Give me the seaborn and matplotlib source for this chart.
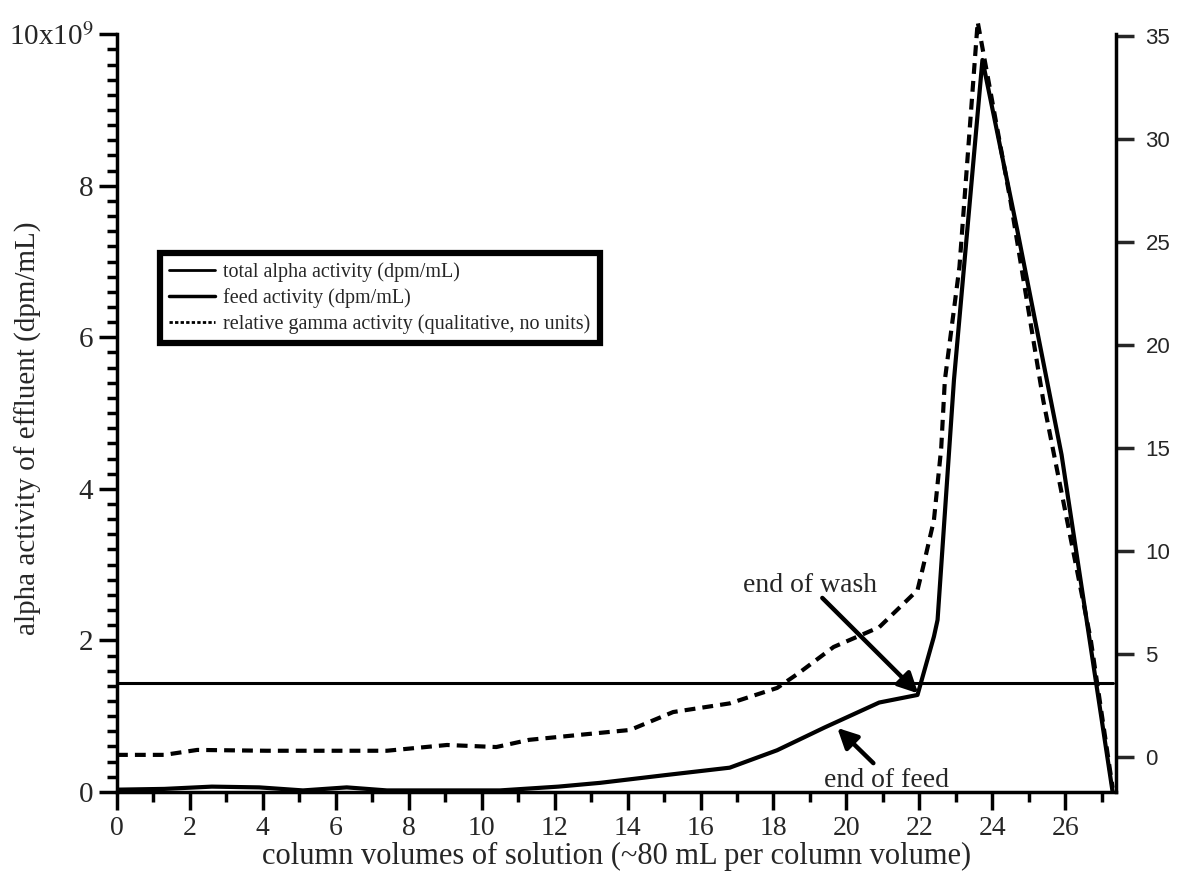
import matplotlib
matplotlib.use("Agg")
import matplotlib.pyplot as plt
from matplotlib.lines import Line2D
from matplotlib.ticker import MultipleLocator, FixedLocator
import seaborn as sns

# total alpha activity of effluent, 10^9 dpm/mL (left axis)
alpha_x = [0, 1.3, 2.6, 3.9, 5.1, 6.3, 7.4, 8.5, 10.5, 12.1, 13.25, 15.0, 16.8,
           18.1, 19.4, 20.9, 21.95, 22.4, 22.5, 22.95, 23.73, 24.7, 25.9, 26.7, 27.3]
alpha_y = [0.03, 0.04, 0.07, 0.06, 0.02, 0.06, 0.02, 0.02, 0.02, 0.07, 0.12, 0.22, 0.32,
           0.55, 0.85, 1.18, 1.28, 2.05, 2.27, 5.44, 9.66, 7.38, 4.45, 1.91, 0.0]

# feed activity, 10^9 dpm/mL (constant)
feed_x = [0, 27.3]
feed_y = [1.44, 1.44]

# relative gamma activity (right axis, no units)
gamma_x = [0, 1.3, 2.2, 4.1, 6.0, 7.4, 9.05, 10.4, 11.3, 13.25, 14.07, 15.25, 16.8,
           18.1, 18.7, 19.65, 20.9, 21.95, 22.1, 22.4, 22.6, 22.7, 23.1, 23.6,
           24.5, 25.4, 26.7, 27.3]
gamma_y = [0.1, 0.1, 0.34, 0.3, 0.3, 0.3, 0.58, 0.48, 0.83, 1.17, 1.31, 2.18, 2.6,
           3.35, 4.08, 5.34, 6.3, 8.1, 9.2, 11.5, 15.0, 18.3, 23.8, 35.7,
           27.0, 17.3, 5.7, -1.5]

left_ticks = [0, 2, 4, 6, 8, 10]
left_labels = ["0", "2", "4", "6", "8", r"10x10$^{9}$"]
right_ticks = [0, 5, 10, 15, 20, 25, 30, 35]

legend_labels = ["total alpha activity (dpm/mL)",
                 "feed activity (dpm/mL)",
                 "relative gamma activity (qualitative, no units)"]

sns.set_style("ticks")
plt.rcParams["font.family"] = ["Liberation Serif", "DejaVu Serif"]
plt.rcParams["mathtext.fontset"] = "stix"

fig = plt.figure(figsize=(11.77, 8.77), dpi=100)
ax = fig.add_axes([0.0994, 0.097, 0.849, 0.864])
ax2 = ax.twinx()

sns.lineplot(x=alpha_x, y=alpha_y, ax=ax, color="black", lw=3, estimator=None)
sns.lineplot(x=feed_x, y=feed_y, ax=ax, color="black", lw=2.2, estimator=None)
sns.lineplot(x=gamma_x, y=gamma_y, ax=ax2, color="black", lw=3, estimator=None,
             linestyle=(0, (2.6, 1.7)), clip_on=False)

ax.set_xlim(0, 27.4)
ax.set_ylim(0, 10)
ax2.set_ylim(-1.7, 35.1)

ax.xaxis.set_major_locator(MultipleLocator(2))
ax.xaxis.set_minor_locator(MultipleLocator(1))
ax.yaxis.set_major_locator(FixedLocator(left_ticks))
ax.set_yticklabels(left_labels)
ax.yaxis.set_minor_locator(MultipleLocator(0.2))
ax2.yaxis.set_major_locator(FixedLocator(right_ticks))

for a in (ax, ax2):
    a.spines["top"].set_visible(False)
    for s in ("left", "bottom", "right"):
        a.spines[s].set_linewidth(2.5)
        a.spines[s].set_color("black")
ax.spines["right"].set_visible(False)
ax2.spines["left"].set_visible(False)
ax2.spines["bottom"].set_visible(False)

ax.tick_params(axis="both", which="major", direction="out", length=13, width=2.5,
               color="black", pad=4)
ax.tick_params(axis="y", which="major", labelsize=21)
ax.tick_params(axis="x", which="major", labelsize=20)
ax.tick_params(axis="both", which="minor", direction="out", length=7, width=2.5,
               color="black")
ax2.tick_params(axis="y", which="major", direction="out", length=13, width=2.5,
                labelsize=16, labelfontfamily="Liberation Sans", pad=8)

ax.set_xlabel("column volumes of solution (~80 mL per column volume)", fontsize=22)
ax.xaxis.set_label_coords(0.5, -0.066)
ax.set_ylabel("alpha activity of effluent (dpm/mL)", fontsize=21)
ax.yaxis.set_label_coords(-0.075, 0.48)

# annotations: text and arrows drawn separately
ax.text(19.01, 2.73, "end of wash", fontsize=20, ha="center", va="center")
ax.annotate("", xy=(21.97, 1.3), xytext=(19.34, 2.56),
            arrowprops=dict(arrowstyle="-|>", color="black", lw=3.2, mutation_scale=30,
                            shrinkA=0, shrinkB=0))
ax.text(21.1, 0.145, "end of feed", fontsize=20, ha="center", va="center")
ax.annotate("", xy=(19.75, 0.845), xytext=(20.74, 0.38),
            arrowprops=dict(arrowstyle="-|>", color="black", lw=3.2, mutation_scale=30,
                            shrinkA=0, shrinkB=0))

handles = [Line2D([], [], color="black", lw=2),
           Line2D([], [], color="black", lw=2.5),
           Line2D([], [], color="black", lw=2, linestyle=(0, (1.2, 0.8)))]
leg = ax.legend(handles, legend_labels, loc="upper left", bbox_to_anchor=(0.043, 0.711),
                borderaxespad=0, fontsize=14.5, frameon=True, fancybox=False,
                edgecolor="black", framealpha=1, handlelength=2.3, handletextpad=0.4,
                borderpad=0.45, labelspacing=0.3)
leg.get_frame().set_linewidth(4.5)

fig.savefig("out.png", dpi=100)
